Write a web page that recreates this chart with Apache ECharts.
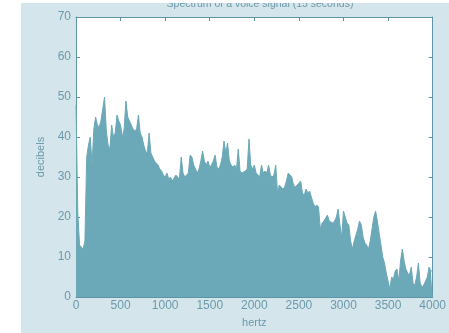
<!DOCTYPE html>
<html>
<head>
<meta charset="utf-8">
<script src="https://cdn.jsdelivr.net/npm/echarts@6/dist/echarts.min.js"></script>
<style>
  html, body { margin: 0; padding: 0; background: #fff; }
  #spectrum { width: 449px; height: 333px; }
</style>
</head>
<body>
<div id="spectrum"></div>
<script>
// spectrum values, one every 20 Hz from 0 to 4000
var freqStep = 20;
var decibels = [
    48, 21, 13, 12.5, 12, 14, 35, 38, 40, 33,
    42, 45, 43, 42.5, 44, 44, 50, 41.5, 38, 37,
    43, 40, 41, 45.5, 44, 43, 40, 42, 49, 45,
    44, 43, 42, 41.5, 42, 45.5, 41, 40, 38, 36.5,
    36, 41, 36, 35, 34, 33.5, 33, 32, 31.5, 30.5,
    30, 31, 29.5, 30, 29, 29, 30.5, 30, 29.5, 35,
    31, 30, 30, 31, 35.5, 35, 33, 32, 31, 32,
    34, 36.5, 34, 33, 34, 32.5, 33, 34, 35.5, 32.5,
    32, 33, 35, 39, 36, 38.5, 34, 33, 32.5, 33,
    32, 37, 31.5, 31, 31, 31.5, 32, 39.5, 33, 32,
    33, 31, 30.5, 30, 33, 31, 31.5, 31, 33, 30.5,
    30, 30.5, 33, 26, 28, 27.5, 27, 27.5, 29, 31,
    31, 30, 28, 27.5, 28, 28.5, 29, 26, 25.5, 27,
    26, 26.5, 25, 23.5, 22.5, 23, 22.5, 17, 18.5, 19,
    19, 20.5, 19, 19, 18.5, 19, 20, 22, 18, 15,
    21.5, 20, 18.5, 18, 14, 12, 14, 15.5, 17, 19,
    18, 15, 13.5, 13, 12, 14, 17, 20, 21.5, 19,
    16, 13, 10, 8.5, 6, 4, 2, 5, 4.5, 6.5,
    7, 4, 9, 12, 9, 7, 6, 5.5, 7.5, 3.5,
    3, 5, 8.5, 3.5, 2.5, 3, 4, 5, 7.5, 6.5,
    6.5
];
var xTicks = [0, 500, 1000, 1500, 2000, 2500, 3000, 3500, 4000];
var yTicks = [0, 10, 20, 30, 40, 50, 60, 70];

var fill = '#6ca9b8';
var frame = '#5d94a6';
var textColor = '#6c9aab';

var chart = echarts.init(document.getElementById('spectrum'));

var points = decibels.map(function (v, i) { return [i * freqStep, v]; });

var baseAxis = {
    axisLine: { show: true, onZero: false, lineStyle: { color: frame, width: 1 } },
    axisTick: { show: true, inside: true, length: 4, lineStyle: { color: frame } },
    splitLine: { show: false }
};

var plain = function (v) { return String(v); };

var option = {
    animation: false,
    backgroundColor: '#fff',
    title: {
        text: 'Spectrum of a voice signal (15 seconds)',
        left: 255,
        textAlign: 'center',
        top: -6,
        textStyle: { fontFamily: 'Liberation Sans', fontSize: 10.5, fontWeight: 'normal', color: textColor }
    },
    graphic: [
        { type: 'rect', z: -10, shape: { x: 21, y: 3, width: 428, height: 330 }, style: { fill: '#d4e5eb' } },
        { type: 'rect', z: 100, shape: { x: 0, y: 0, width: 449, height: 3 }, style: { fill: '#fff' } },
        { type: 'rect', z: 100, shape: { x: 0, y: 0, width: 21, height: 333 }, style: { fill: '#fff' } }
    ],
    grid: { left: 76, right: 9, top: 17, bottom: 31, backgroundColor: '#fff', show: true, borderWidth: 0 },
    xAxis: [
        Object.assign({}, baseAxis, {
            type: 'value', min: xTicks[0], max: xTicks[xTicks.length - 1], interval: 500,
            name: 'hertz', nameLocation: 'middle', nameGap: 19,
            nameTextStyle: { fontFamily: 'Liberation Sans', fontSize: 11, color: textColor },
            axisLabel: { fontFamily: 'Liberation Sans', fontSize: 12, color: textColor, margin: 3, formatter: plain }
        }),
        Object.assign({}, baseAxis, {
            type: 'value', position: 'top', min: xTicks[0], max: xTicks[xTicks.length - 1], interval: 500,
            axisLabel: { show: false }
        })
    ],
    yAxis: [
        Object.assign({}, baseAxis, {
            type: 'value', min: yTicks[0], max: yTicks[yTicks.length - 1], interval: 10,
            name: 'decibels', nameLocation: 'middle', nameGap: 28,
            nameTextStyle: { fontFamily: 'Liberation Sans', fontSize: 11, color: textColor },
            axisLabel: { fontFamily: 'Liberation Sans', fontSize: 12, color: textColor, margin: 5, formatter: plain }
        }),
        Object.assign({}, baseAxis, {
            type: 'value', position: 'right', min: yTicks[0], max: yTicks[yTicks.length - 1], interval: 10,
            axisLabel: { show: false }
        })
    ],
    series: [
        {
            type: 'line',
            data: points,
            showSymbol: false,
            sampling: 'none',
            lineStyle: { color: fill, width: 1 },
            areaStyle: { color: fill, opacity: 1 }
        }
    ]
};

chart.setOption(option);
window.addEventListener('resize', function () { chart.resize(); });
</script>
</body>
</html>
